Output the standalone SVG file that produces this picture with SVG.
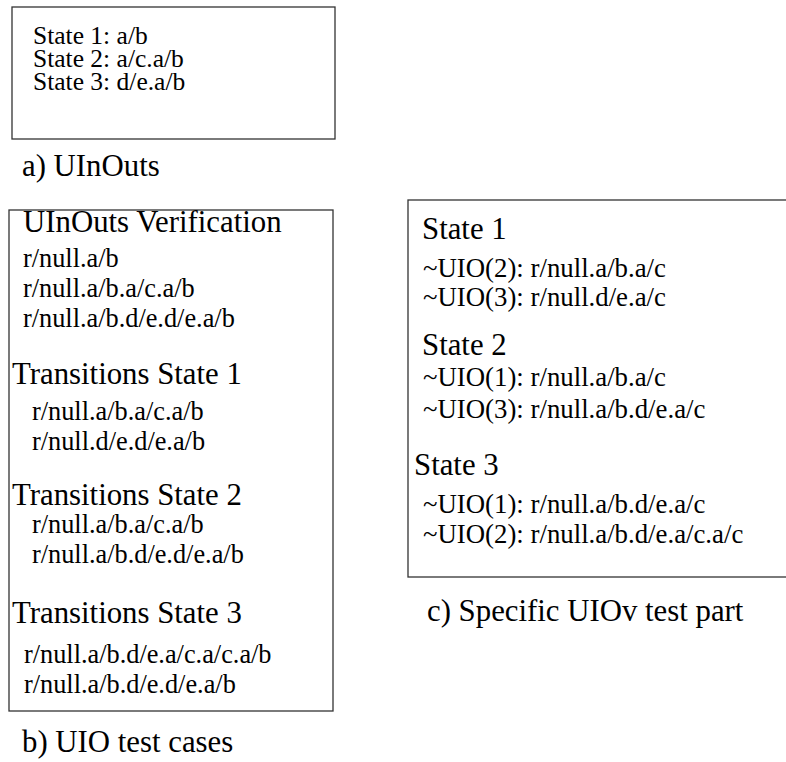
<svg xmlns="http://www.w3.org/2000/svg" width="786" height="762" viewBox="0 0 786 762">
  <style>
    text { font-family: "Liberation Serif", "Times New Roman", serif; fill: #000; }
    .small { font-size: 25.5px; }
    .body { font-size: 26.3px; }
    .uio { font-size: 26.8px; }
    .head { font-size: 30.8px; }
    .box { fill: #fff; stroke: #333; stroke-width: 1.3; }
  </style>
  <rect width="786" height="762" fill="#fff"/>

  <!-- a) UInOuts -->
  <g id="uinouts">
    <rect class="box" x="12" y="7" width="323" height="132"/>
    <text class="small" x="33" y="44">State 1: a/b</text>
    <text class="small" x="33" y="67">State 2: a/c.a/b</text>
    <text class="small" x="33" y="90">State 3: d/e.a/b</text>
  </g>
  <text id="caption-a" class="head" x="22" y="176">a) UInOuts</text>

  <!-- b) UIO test cases -->
  <g id="uio-test-cases">
    <rect class="box" x="9" y="210" width="324" height="501"/>
    <text class="head" x="23" y="232">UInOuts Verification</text>
    <text class="body" x="23" y="267">r/null.a/b</text>
    <text class="body" x="23" y="297">r/null.a/b.a/c.a/b</text>
    <text class="body" x="23" y="327">r/null.a/b.d/e.d/e.a/b</text>
    <text class="head" x="12" y="384">Transitions State 1</text>
    <text class="body" x="32" y="420">r/null.a/b.a/c.a/b</text>
    <text class="body" x="32" y="450">r/null.d/e.d/e.a/b</text>
    <text class="head" x="12" y="505">Transitions State 2</text>
    <text class="body" x="32" y="533">r/null.a/b.a/c.a/b</text>
    <text class="body" x="32" y="563">r/null.a/b.d/e.d/e.a/b</text>
    <text class="head" x="12" y="623">Transitions State 3</text>
    <text class="body" x="24" y="663">r/null.a/b.d/e.a/c.a/c.a/b</text>
    <text class="body" x="24" y="693">r/null.a/b.d/e.d/e.a/b</text>
  </g>
  <text id="caption-b" class="head" x="22" y="752">b) UIO test cases</text>

  <!-- c) Specific UIOv test part -->
  <g id="uiov-part">
    <rect class="box" x="408" y="200" width="390" height="377"/>
    <text class="head" x="422" y="239">State 1</text>
    <text class="uio" x="423" y="277">~UIO(2): r/null.a/b.a/c</text>
    <text class="uio" x="423" y="306">~UIO(3): r/null.d/e.a/c</text>
    <text class="head" x="422" y="355">State 2</text>
    <text class="uio" x="423" y="386">~UIO(1): r/null.a/b.a/c</text>
    <text class="uio" x="423" y="418">~UIO(3): r/null.a/b.d/e.a/c</text>
    <text class="head" x="414" y="475">State 3</text>
    <text class="uio" x="423" y="513">~UIO(1): r/null.a/b.d/e.a/c</text>
    <text class="uio" x="423" y="543">~UIO(2): r/null.a/b.d/e.a/c.a/c</text>
  </g>
  <text id="caption-c" class="head" x="427" y="621">c) Specific UIOv test part</text>
</svg>
